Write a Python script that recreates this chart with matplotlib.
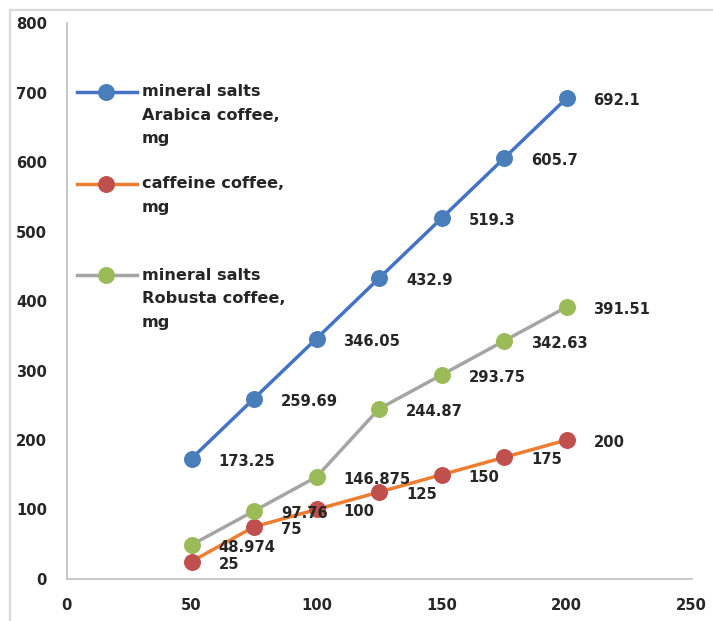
import matplotlib
matplotlib.use("Agg")
import matplotlib.pyplot as plt
from matplotlib.lines import Line2D

# Data
doses = [50, 75, 100, 125, 150, 175, 200]
arabica_salts = [173.25, 259.69, 346.05, 432.9, 519.3, 605.7, 692.1]
caffeine = [25, 75, 100, 125, 150, 175, 200]
robusta_salts = [48.974, 97.76, 146.875, 244.87, 293.75, 342.63, 391.51]

series_names = [
    ["mineral salts", "Arabica coffee,", "mg"],
    ["caffeine coffee,", "mg"],
    ["mineral salts", "Robusta coffee,", "mg"],
]
x_ticks = [0, 50, 100, 150, 200, 250]
y_ticks = [0, 100, 200, 300, 400, 500, 600, 700, 800]

W, H, DPI = 713, 621, 100
fig = plt.figure(figsize=(W / DPI, H / DPI), dpi=DPI)
fig.patch.set_facecolor("white")

# axes box in pixels
ax_l, ax_r, ax_b, ax_t = 66.5, 691.5, 578.9, 23.4
ax = fig.add_axes([ax_l / W, 1 - ax_b / H, (ax_r - ax_l) / W, (ax_b - ax_t) / H])

text_color = "#262626"
styles = [
    dict(line="#4472C4", marker="#4A7EBB"),
    dict(line="#ED7D31", marker="#C0504D"),
    dict(line="#A5A5A5", marker="#9BBB59"),
]
all_series = [arabica_salts, caffeine, robusta_salts]

for vals, st in zip(all_series, styles):
    ax.plot(doses, vals, color=st["line"], lw=2.5, marker="o", ms=11.2,
            mfc=st["marker"], mec=st["marker"], zorder=3, clip_on=False)

for vals in all_series:
    for x, y in zip(doses, vals):
        ax.annotate(f"{y:g}", (x, y), xytext=(27, -2.5), textcoords="offset pixels",
                    ha="left", va="center", fontsize=10.6, fontweight="bold",
                    color=text_color, zorder=5)

ax.set_xlim(0, 250)
ax.set_ylim(0, 800)
ax.set_xticks(x_ticks)
ax.set_yticks(y_ticks)
ax.tick_params(axis="both", length=0, labelsize=10.6, labelcolor=text_color)
ax.tick_params(axis="x", pad=14)
ax.tick_params(axis="y", pad=14)
for lab in ax.get_xticklabels() + ax.get_yticklabels():
    lab.set_fontweight("bold")

for s in ("top", "right"):
    ax.spines[s].set_visible(False)
for s in ("left", "bottom"):
    ax.spines[s].set_color("#BFBFBF")
    ax.spines[s].set_linewidth(1.2)

# legend drawn inside the plot area, handle aligned with the first text line
def px_to_ax(px, py):
    return (px - ax_l) / (ax_r - ax_l), (ax_b - py) / (ax_b - ax_t)

row_y = [92, 184, 275]
line_gap = 23.5
for names, st, ry in zip(series_names, styles, row_y):
    x0, y0 = px_to_ax(77, ry)
    x1, _ = px_to_ax(137, ry)
    xm, _ = px_to_ax(106, ry)
    ax.add_line(Line2D([x0, x1], [y0, y0], transform=ax.transAxes, color=st["line"],
                       lw=2.5, clip_on=False, zorder=4))
    ax.add_line(Line2D([xm], [y0], transform=ax.transAxes, marker="o", ms=11.2,
                       mfc=st["marker"], mec=st["marker"], ls="none",
                       clip_on=False, zorder=4))
    for i, name in enumerate(names):
        tx, ty = px_to_ax(142, ry + i * line_gap)
        ax.text(tx, ty, name, transform=ax.transAxes, ha="left", va="center",
                fontsize=11.6, fontweight="bold", color=text_color)

# outer frame lines (left and top edges)
fig.add_artist(Line2D([10 / W, 10 / W], [0, 1 - 10 / H], transform=fig.transFigure,
                      color="#D9D9D9", lw=1.6))
fig.add_artist(Line2D([10 / W, 1], [1 - 10 / H, 1 - 10 / H], transform=fig.transFigure,
                      color="#D9D9D9", lw=1.6))

fig.savefig("out.png", dpi=DPI, facecolor="white")
